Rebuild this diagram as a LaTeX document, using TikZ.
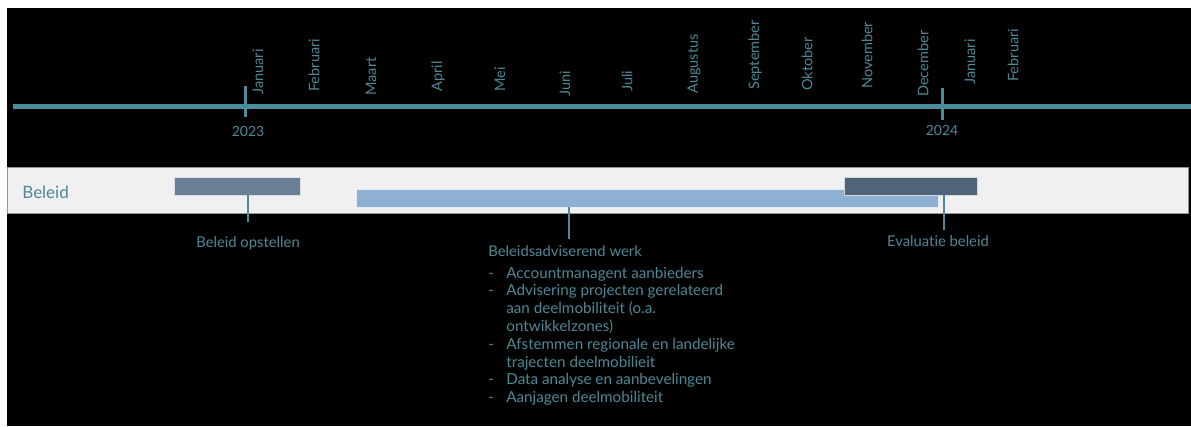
\documentclass[tikz,border=0pt]{standalone}
\usepackage{fontspec}
\setmainfont{Lato}[Ligatures=NoCommon]
\usetikzlibrary{positioning}
\definecolor{tealline}{RGB}{74,139,156}
\definecolor{tealtext}{RGB}{78,136,150}
\definecolor{bandgrey}{RGB}{240,240,240}
\definecolor{barslate}{RGB}{104,127,150}
\definecolor{barlight}{RGB}{141,176,211}
\definecolor{bardark}{RGB}{80,99,120}
\tikzset{every picture/.style={line width=0.75pt}}

\begin{document}
\begin{tikzpicture}[x=1pt,y=-1pt,
		month/.style={rotate=90,anchor=west,inner sep=0pt,text=tealtext,font=\fontsize{14.5}{17}\selectfont},
		year/.style={anchor=base,inner sep=0pt,text=tealtext,font=\fontsize{14}{17}\selectfont},
		bar/.style={draw=white!75!#1,fill=#1,line width=0.5pt,minimum height=18pt,inner sep=0pt},
		label/.style={anchor=base,inner sep=0pt,text=tealtext,font=\fontsize{14.8}{17.8}\selectfont},
		link/.style={draw=tealline,line width=1.2pt}
	]
	% canvas
	\useasboundingbox (0,0) rectangle (1191,426);
	\fill[white] (0,0) rectangle (1191,426);
	\fill[black] (7,8) rectangle (1191,426);
	% time axis
	\draw[tealline,line width=5pt] (13,106) -- (1191,106);
	\draw[tealline,line width=3pt] (245,86) -- (245,117);
	\draw[tealline,line width=3pt] (942,88) -- (942,120);
	\node[year] (y2023) at (248,136.7) {2023};
	\node[year] (y2024) at (942,135) {2024};
	\foreach \x/\y/\m [count=\i] in {258/95/Januari, 314/92/Februari, 371/96/Maart, 438/92/April,
		500/92/Mei, 565/97/Juni, 627/92/Juli, 694/94/Augustus, 755/90/September, 807/91/Oktober,
		867/89/November, 923/97/December, 970/85/Januari, 1013/82/Februari}
	\node[month] (month\i) at (\x,\y) {\m};
	% Beleid lane
	\draw[draw=gray!85,fill=bandgrey] (7,167) rectangle (1188,213);
	\node[anchor=base west,inner sep=0pt,text=tealtext,font=\fontsize{17}{20}\selectfont] (beleid) at (22,198.3) {Beleid};
	\node[bar=barslate,minimum width=126pt] (opstbar) at (237,186) {};
	\node[bar=barlight,minimum width=582pt] (werkbar) at (647,198) {};
	\node[bar=bardark,minimum width=133pt] (evalbar) at (910.5,186) {};
	% labels
	\node[label] (opst) at (248,247.7) {Beleid opstellen};
	\node[label] (eval) at (938,246.7) {Evaluatie beleid};
	\node[label,anchor=base west] (werk) at (488,256) {Beleidsadviserend werk};
	\node[below right=9.2pt and 0pt of werk.base west,inner sep=0pt,text=tealtext,font=\fontsize{15.2}{17.8}\selectfont] (lijst)
	{\begin{tabular}{@{}p{18pt}@{}l@{}}
			- & Accountmanagent aanbieders\\
			- & Advisering projecten gerelateerd\\
			& aan deelmobiliteit (o.a.\\
			& ontwikkelzones)\\
			- & Afstemmen regionale en landelijke\\
			& trajecten deelmobilieit\\
			- & Data analyse en aanbevelingen\\
			- & Aanjagen deelmobiliteit
		\end{tabular}};
	\draw[link] (opst.north |- opstbar.south) -- ([yshift=14pt]opst.north);
	\draw[link] ([xshift=4pt]werk.north |- werkbar.south) -- ([xshift=4pt,yshift=5.6pt]werk.north);
	\draw[link] ([xshift=6pt]eval.north |- evalbar.south) -- ([xshift=6pt,yshift=5pt]eval.north);
\end{tikzpicture}
\end{document}
